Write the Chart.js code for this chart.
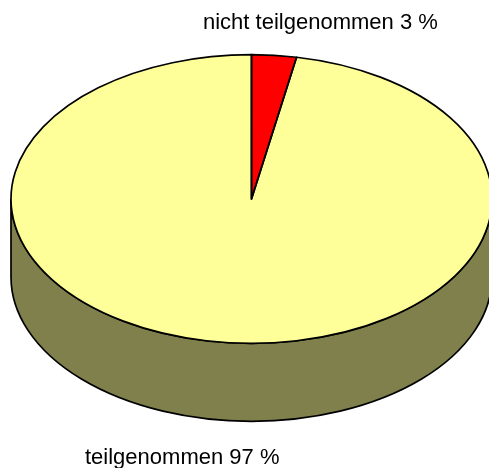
<!DOCTYPE html>
<html>
<head>
<meta charset="utf-8">
<script src="https://cdn.jsdelivr.net/npm/chart.js@4"></script>
<style>
  html, body { margin: 0; padding: 0; background: #fff; overflow: hidden; }
  #wrap { width: 489px; height: 468px; }
</style>
</head>
<body>
<div id="wrap"><canvas id="chart" width="489" height="468"></canvas></div>
<script>
const categories = ['nicht teilgenommen 3 %', 'teilgenommen 97 %'];
const values = [3, 97];
const colors = ['#ff0000', '#ffff99'];
const sideColor = '#80804d';

const squash = 0.6;   // ellipse height / width
const depth = 78;     // height of the pie wall in px
const labelSpots = [[203, 29], [85, 464]];

// path of one wedge squashed into an ellipse, in plain pixel space
function wedgePath(ctx, arc) {
    ctx.beginPath();
    ctx.moveTo(arc.x, arc.y);
    ctx.ellipse(arc.x, arc.y, arc.outerRadius, arc.outerRadius * squash, 0, arc.startAngle, arc.endAngle);
    ctx.closePath();
}

const tiltPlugin = {
    id: 'tilt',
    beforeDatasetsDraw(chart) {
        const ctx = chart.ctx;
        const arc = chart.getDatasetMeta(0).data[0];
        const rx = arc.outerRadius;
        const ry = rx * squash;

        // wall below the front half
        ctx.save();
        ctx.beginPath();
        ctx.ellipse(arc.x, arc.y, rx, ry, 0, Math.PI, 0, true);
        ctx.lineTo(arc.x + rx, arc.y + depth);
        ctx.ellipse(arc.x, arc.y + depth, rx, ry, 0, 0, Math.PI);
        ctx.closePath();
        ctx.fillStyle = sideColor;
        ctx.fill();
        ctx.strokeStyle = '#000';
        ctx.lineWidth = 1.7;
        ctx.stroke();
        ctx.restore();

        // top face goes through the library's arc drawing, squashed
        ctx.save();
        ctx.translate(arc.x, arc.y);
        ctx.scale(1, squash);
        ctx.translate(-arc.x, -arc.y);
    },
    afterDatasetsDraw(chart) {
        const ctx = chart.ctx;
        ctx.restore();

        // outlines stroked unsquashed so the line keeps an even weight
        ctx.save();
        ctx.strokeStyle = '#000';
        ctx.lineWidth = 1.7;
        ctx.lineJoin = 'round';
        chart.getDatasetMeta(0).data.forEach(arc => {
            wedgePath(ctx, arc);
            ctx.stroke();
        });

        ctx.fillStyle = '#000';
        ctx.font = '22px "Liberation Sans", Arial, sans-serif';
        ctx.textAlign = 'left';
        ctx.textBaseline = 'alphabetic';
        categories.forEach((text, i) => {
            ctx.fillText(text, labelSpots[i][0], labelSpots[i][1]);
        });
        ctx.restore();
    }
};

new Chart(document.getElementById('chart'), {
    type: 'pie',
    data: {
        labels: categories,
        datasets: [{
            data: values,
            backgroundColor: colors,
            borderWidth: 0,
            clip: false
        }]
    },
    options: {
        responsive: false,
        animation: false,
        radius: 240.5,
        layout: { padding: { left: 14, right: 0, top: 0, bottom: 70 } },
        plugins: {
            legend: { display: false },
            tooltip: { enabled: false }
        }
    },
    plugins: [tiltPlugin]
});
</script>
</body>
</html>
